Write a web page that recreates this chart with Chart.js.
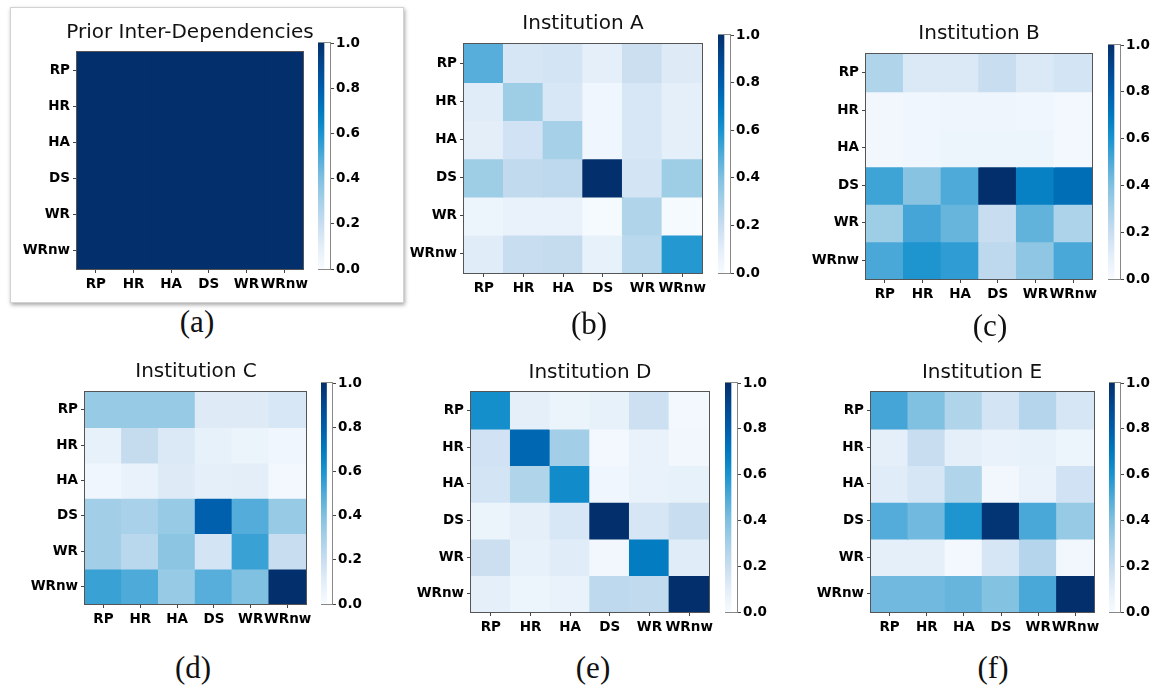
<!DOCTYPE html>
<html><head><meta charset="utf-8">
<script src="https://cdn.jsdelivr.net/npm/chart.js@4.4.0/dist/chart.umd.min.js"></script>
<style>
html,body{margin:0;padding:0;background:#fff;}
#page{position:relative;width:1154px;height:689px;overflow:hidden;background:#fff;}
.box{position:absolute;left:10px;top:7px;width:392px;height:294px;border:1px solid #d2d2d2;box-shadow:1px 2px 4px rgba(0,0,0,0.35);background:#fff;}
canvas{position:absolute;}
.title{position:absolute;font-family:"DejaVu Sans",sans-serif;font-size:20px;line-height:1;white-space:nowrap;transform:translate(-50%,-50%);color:#111;}
.sub{position:absolute;font-family:"Liberation Serif",serif;font-size:31px;line-height:1;white-space:nowrap;transform:translate(-50%,-50%);color:#111;}
</style></head>
<body><div id="page"><div class="box"></div></div>
<script>
// ---------- data ----------
const rowLabels = ['RP','HR','HA','DS','WR','WRnw'];
const colLabels = ['RP','HR','HA','DS','WR','WRnw'];
const colorbarTicks = [0, 0.2, 0.4, 0.6, 0.8, 1.0];

const priorValues = [
  [1,1,1,1,1,1],
  [1,1,1,1,1,1],
  [1,1,1,1,1,1],
  [1,1,1,1,1,1],
  [1,1,1,1,1,1],
  [1,1,1,1,1,1]
];
const instA = [
  [0.48,0.15,0.16,0.09,0.19,0.12],
  [0.11,0.32,0.14,0.04,0.14,0.09],
  [0.10,0.17,0.30,0.04,0.14,0.09],
  [0.32,0.22,0.23,1.00,0.16,0.32],
  [0.05,0.07,0.07,0.01,0.27,0.01],
  [0.11,0.20,0.21,0.08,0.24,0.58]
];
const instB = [
  [0.27,0.13,0.13,0.20,0.13,0.16],
  [0.03,0.04,0.045,0.045,0.04,0.02],
  [0.03,0.04,0.05,0.05,0.05,0.02],
  [0.53,0.38,0.50,1.00,0.67,0.74],
  [0.32,0.52,0.45,0.20,0.46,0.28],
  [0.51,0.59,0.56,0.23,0.36,0.51]
];
const instC = [
  [0.34,0.34,0.34,0.12,0.12,0.14],
  [0.08,0.21,0.13,0.08,0.06,0.04],
  [0.04,0.07,0.12,0.09,0.10,0.02],
  [0.31,0.29,0.34,0.79,0.49,0.34],
  [0.31,0.24,0.37,0.16,0.54,0.20],
  [0.54,0.50,0.34,0.48,0.40,1.00]
];
const instD = [
  [0.62,0.09,0.06,0.08,0.18,0.02],
  [0.17,0.76,0.31,0.02,0.07,0.03],
  [0.16,0.27,0.63,0.04,0.07,0.08],
  [0.06,0.09,0.14,1.00,0.15,0.20],
  [0.19,0.08,0.11,0.03,0.69,0.11],
  [0.09,0.05,0.07,0.23,0.22,1.00]
];
const instE = [
  [0.52,0.40,0.27,0.16,0.26,0.15],
  [0.09,0.20,0.09,0.07,0.08,0.05],
  [0.11,0.15,0.27,0.03,0.07,0.17],
  [0.49,0.43,0.59,0.98,0.51,0.34],
  [0.09,0.09,0.02,0.15,0.26,0.03],
  [0.43,0.43,0.45,0.39,0.51,1.00]
];

// colormap (Blues-like, as in the picture's colorbars)
const cmapStops = [0, 0.1, 0.2, 0.3, 0.4, 0.5, 0.6, 0.7, 0.8, 0.9, 1.0];
const cmapColors = ['#f7fbff','#e3eef9','#c8ddf0','#a6d0e8','#80c0e0','#4eaad8','#1a93cf','#0079bf','#005dab','#02478f','#03306d'];

// ---------- helpers ----------
function hexToRgb(h){return [parseInt(h.slice(1,3),16),parseInt(h.slice(3,5),16),parseInt(h.slice(5,7),16)];}
function colorFor(v){
  v = Math.max(0, Math.min(1, v));
  for (let k = 0; k < cmapStops.length - 1; k++) {
    if (v <= cmapStops[k+1]) {
      const t = (v - cmapStops[k]) / (cmapStops[k+1] - cmapStops[k]);
      const a = hexToRgb(cmapColors[k]), b = hexToRgb(cmapColors[k+1]);
      const c = a.map((x,i)=>Math.round(x + (b[i]-x)*t));
      return 'rgb(' + c.join(',') + ')';
    }
  }
  return cmapColors[cmapColors.length-1];
}
const framePlugin = {
  id: 'frame',
  afterDatasetsDraw(chart, args, opts) {
    const {ctx, chartArea: a} = chart;
    ctx.save();
    ctx.strokeStyle = opts.color || '#555';
    ctx.lineWidth = 1;
    ctx.strokeRect(Math.round(a.left)-0.5, Math.round(a.top)-0.5, Math.round(a.right-a.left)+1, Math.round(a.bottom-a.top)+1);
    ctx.restore();
  }
};
Chart.register(framePlugin);

const tickFont = {family: '"DejaVu Sans", sans-serif', size: 13.5, weight: 'bold'};
const cbFont = {family: '"DejaVu Sans", sans-serif', size: 13.5, weight: 'bold'};
const page = document.getElementById('page');

function addCanvas(l, t, w, h) {
  const c = document.createElement('canvas');
  c.width = w; c.height = h;
  c.style.left = l + 'px'; c.style.top = t + 'px';
  c.style.width = w + 'px'; c.style.height = h + 'px';
  page.appendChild(c);
  return c;
}
function addText(cls, txt, x, y) {
  const d = document.createElement('div');
  d.className = cls; d.textContent = txt;
  d.style.left = x + 'px'; d.style.top = y + 'px';
  page.appendChild(d);
}

function makeHeatmap(plot, values) {
  const [pl, pt, pw, ph] = plot;
  const yw = 62, xh = 34, padT = 2, padR = 30;
  const cv = addCanvas(pl - yw, pt - padT, pw + yw + padR, ph + padT + xh);
  const datasets = rowLabels.map((r, i) => ({
    label: r,
    data: colLabels.map(() => [i - 0.5, i + 0.5]),
    backgroundColor: values[i].map(colorFor),
    borderWidth: 0,
    inflateAmount: 0.7,
    grouped: false,
    barPercentage: 1,
    categoryPercentage: 1
  }));
  new Chart(cv, {
    type: 'bar',
    data: {labels: colLabels, datasets},
    options: {
      responsive: false, animation: false, devicePixelRatio: 1, events: [],
      layout: {padding: {top: padT, right: padR, bottom: 0, left: 0}},
      plugins: {legend: {display: false}, tooltip: {enabled: false}, frame: {color: '#555'}},
      scales: {
        x: {
          type: 'category', offset: true,
          grid: {display: true, drawOnChartArea: false, offset: false, tickLength: 4, color: '#444'},
          border: {display: false},
          ticks: {font: tickFont, color: '#000', padding: 3, maxRotation: 0, autoSkip: false},
          afterFit(s) { s.height = xh; }
        },
        y: {
          type: 'linear', reverse: true, min: -0.5, max: 5.5,
          grid: {display: true, drawOnChartArea: false, tickLength: 4, color: '#444'},
          border: {display: false},
          afterBuildTicks(s) { s.ticks = rowLabels.map((_, i) => ({value: i})); },
          ticks: {font: tickFont, color: '#000', padding: 3, callback: (v) => rowLabels[v]},
          afterFit(s) { s.width = yw; }
        }
      }
    }
  });
}

function makeColorbar(cb) {
  const [cl, ct, cw, ch] = cb;
  const pad = 12, aw = 33;
  const cv = addCanvas(cl, ct - pad, cw + aw + 1, ch + 2*pad);
  new Chart(cv, {
    type: 'bar',
    data: {labels: ['cb'], datasets: [{
      data: [[0, 1]],
      barPercentage: 1, categoryPercentage: 1, borderWidth: 0,
      backgroundColor(ctx) {
        const chart = ctx.chart;
        if (!chart.chartArea) return cmapColors[5];
        const ys = chart.scales.y;
        const g = chart.ctx.createLinearGradient(0, ys.getPixelForValue(0), 0, ys.getPixelForValue(1));
        cmapStops.forEach((s, k) => g.addColorStop(s, cmapColors[k]));
        return g;
      }
    }]},
    options: {
      responsive: false, animation: false, devicePixelRatio: 1, events: [],
      layout: {padding: {top: pad, bottom: pad, left: 0, right: 1}},
      plugins: {legend: {display: false}, tooltip: {enabled: false}, frame: {color: '#888'}},
      scales: {
        x: {display: false, offset: false},
        y: {
          position: 'right', min: 0, max: 1,
          grid: {display: true, drawOnChartArea: false, tickLength: 4, color: '#444'},
          border: {display: false},
          afterBuildTicks(s) { s.ticks = colorbarTicks.map(v => ({value: v})); },
          ticks: {font: cbFont, color: '#000', padding: 2, callback: (v) => Number(v).toFixed(1)},
          afterFit(s) { s.width = aw; }
        }
      }
    }
  });
}

const panels = [
  {title: 'Prior Inter-Dependencies', values: priorValues, plot: [77,43,226,226], cb: [318,43,12,226], tXY: [190,31], sub: '(a)', sXY: [197,321]},
  {title: 'Institution A', values: instA, plot: [464,35,238,238], cb: [718,35,12,238], tXY: [583,22], sub: '(b)', sXY: [589,323]},
  {title: 'Institution B', values: instB, plot: [866,45,226,234], cb: [1108,45,12,234], tXY: [979,32], sub: '(c)', sXY: [990,325]},
  {title: 'Institution C', values: instC, plot: [85,383,221,221], cb: [321,383,11,221], tXY: [196,370], sub: '(d)', sXY: [193,667]},
  {title: 'Institution D', values: instD, plot: [471,383,238,229], cb: [725,383,12,229], tXY: [590,371], sub: '(e)', sXY: [593,667]},
  {title: 'Institution E', values: instE, plot: [871,383,223,229], cb: [1109,383,11,229], tXY: [982,371], sub: '(f)', sXY: [993,667]}
];

panels.forEach(p => {
  makeHeatmap(p.plot, p.values);
  makeColorbar(p.cb);
  addText('title', p.title, p.tXY[0], p.tXY[1]);
  addText('sub', p.sub, p.sXY[0], p.sXY[1]);
});
</script>
</body></html>
